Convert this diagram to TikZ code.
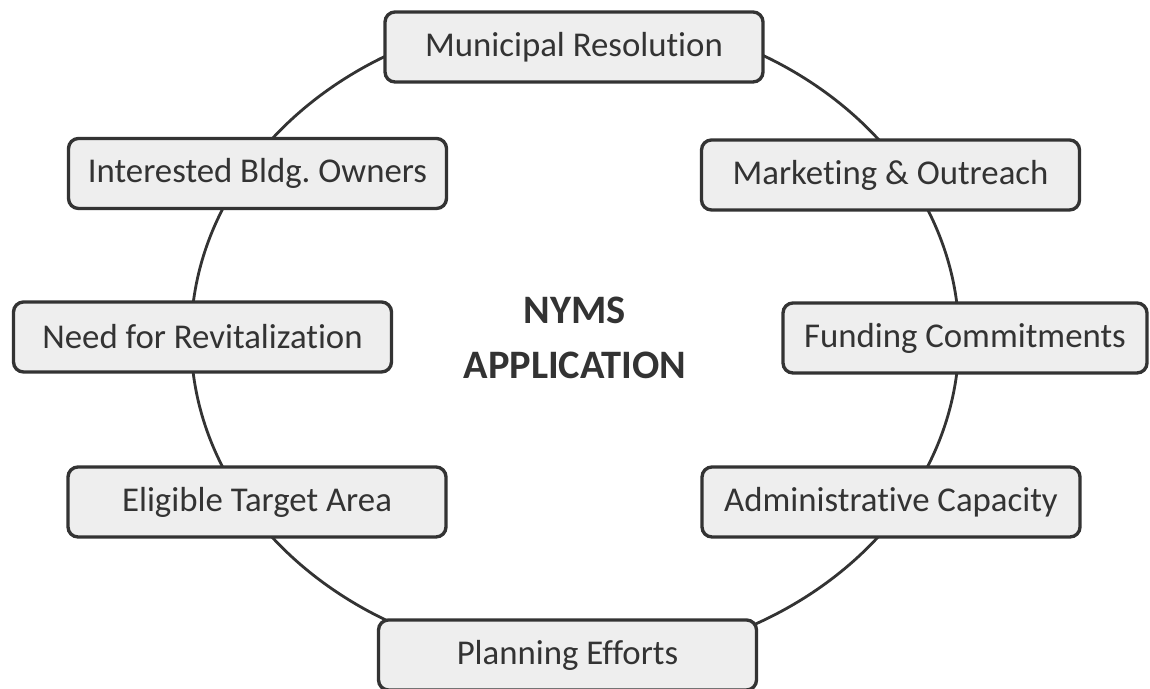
\documentclass[tikz,border=0pt]{standalone}
\usepackage{fontspec}
\setmainfont{Carlito}[Ligatures=NoCommon]
\usepackage{tikz}
\definecolor{boxline}{HTML}{333333}
\definecolor{boxfill}{HTML}{EEEEEE}
\definecolor{inktext}{HTML}{333333}
\tikzset{stepnode/.style={rectangle, rounded corners=0.2cm, draw=boxline, fill=boxfill,
line width=1.9pt, minimum width=7.56cm, minimum height=1.4cm, inner sep=0pt,
text=inktext, font=\fontsize{19.8}{23}\selectfont},
every label/.style={rectangle, draw=none}}
\frenchspacing

\begin{document}
\begin{tikzpicture}
\coordinate (SW) at (0,0);
\coordinate (NE) at (23,13.78);
\coordinate (Hub) at (11.5,7.02);
\useasboundingbox (SW) rectangle (NE);

%%Ring
\draw[boxline, line width=1.6pt] (Hub) ellipse [x radius=7.68cm, y radius=6.48cm];

%%Centre text
\node[text=inktext, align=center, font=\fontsize{23}{31}\bfseries\selectfont] (app) at (Hub) {NYMS\\APPLICATION};

%%Requirements round the ring
\begin{scope}[every node/.style={stepnode}]
\node (resolution) at (11.48,12.84) {Municipal Resolution};
\node (owners) at (5.15,10.31) {Interested Bldg. Owners};
\node (marketing) at (17.81,10.28) {Marketing \& Outreach};
\node (need) at (4.05,7.04) {Need for Revitalization};
\node[minimum width=7.28cm] (funding) at (19.30,7.02) {Funding Commitments};
\node (target) at (5.14,3.74) {Eligible Target Area};
\node (admin) at (17.82,3.74) {Administrative Capacity};
\node (planning) at (11.35,0.68) {Planning Efforts};
\end{scope}

\end{tikzpicture}
\end{document}
